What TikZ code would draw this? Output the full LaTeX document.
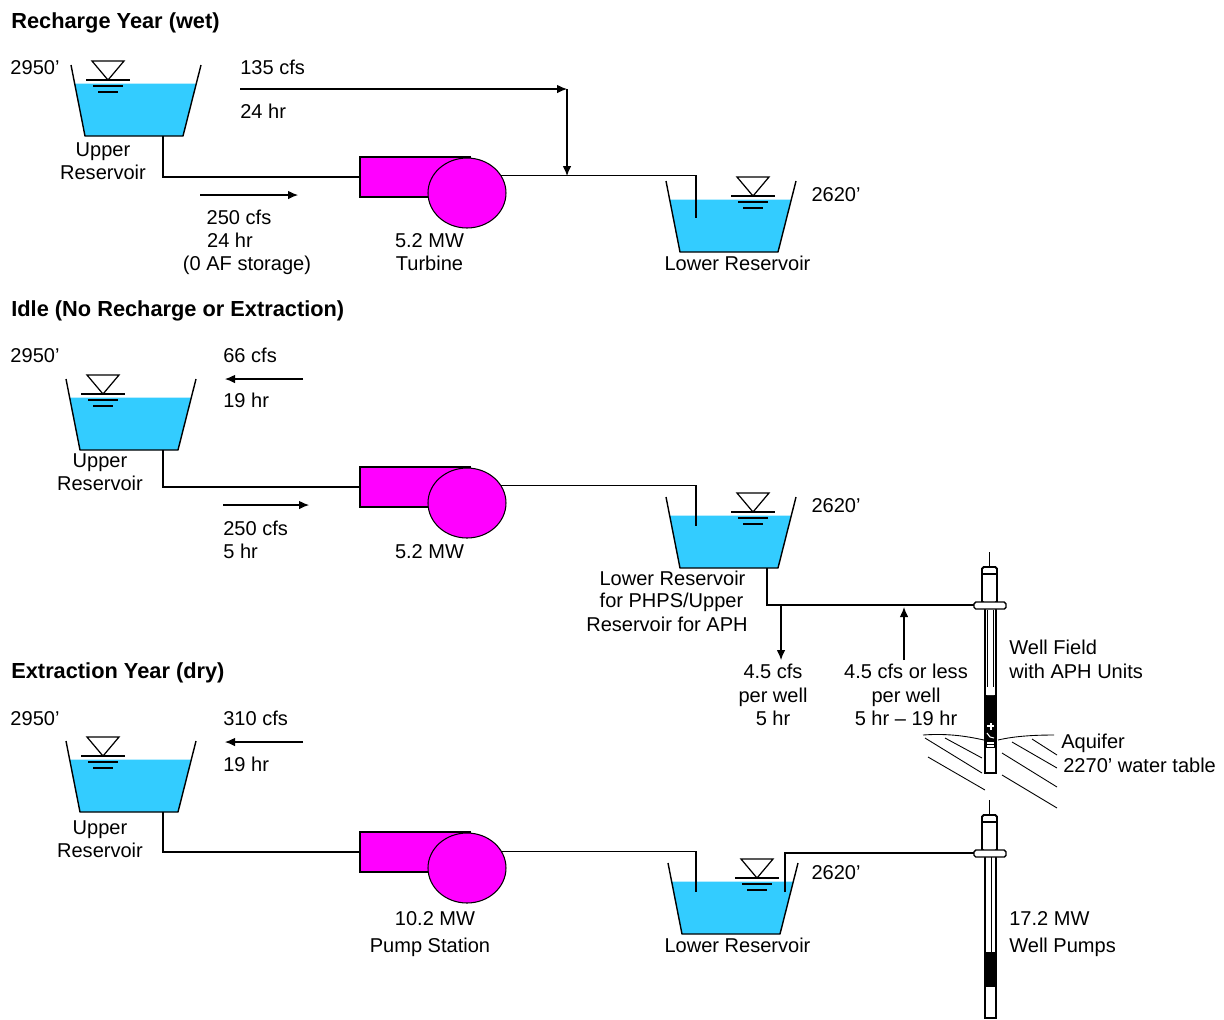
\documentclass[tikz,border=0pt]{standalone}
\usepackage{fontspec}
\setmainfont{Liberation Sans}
\usepackage{tikz}
\usetikzlibrary{shapes.geometric,arrows.meta}
\definecolor{WaterBlue}{RGB}{51,204,255}
\definecolor{PumpPink}{RGB}{255,0,255}
\tikzset{
	pipe/.style={line width=0.8pt},
	flow/.style={line width=0.6pt, -{Latex[length=2mm,width=1.7mm]}},
	txt/.style={font=\fontsize{11.4}{13.2}\selectfont, inner sep=0pt, align=center},
	lefttxt/.style={txt, anchor=west},
	title/.style={font=\fontsize{12.4}{14}\selectfont\bfseries, inner sep=0pt, anchor=west},
	pumpcase/.style={draw=black, fill=PumpPink, line width=0.6pt, rectangle, inner sep=0pt, minimum width=2.2cm, minimum height=0.8cm},
	pumpwheel/.style={draw=black, fill=PumpPink, line width=0.6pt, ellipse, inner sep=0pt, minimum width=1.56cm, minimum height=1.4cm},
	wellcap/.style={line width=1.1pt, fill=white, rounded corners=1pt},
	wellwall/.style={line width=1.6pt, fill=white},
}
\begin{document}
\begin{tikzpicture}[x=0.02cm, y=-0.02cm]
	\useasboundingbox (0,0) rectangle (1224,1019);

	% reservoirs: bottom left corner and level mark
	\foreach \x/\y/\t in {85/136/108, 680/252/753, 80/450/103, 680/568/753, 80/812/103, 682/934/757}{
		\fill[WaterBlue] (\x-10.5,\y-52.5) -- (\x+111,\y-52.5) -- (\x+98,\y) -- (\x,\y) -- cycle;
		\draw[pipe, line join=round] (\x-14,\y-71) -- (\x,\y) -- (\x+98,\y) -- (\x+116,\y-71);
		\draw[line width=0.7pt] (\t-16,\y-75) -- (\t+16,\y-75) -- (\t,\y-56) -- cycle;
		\draw[line width=0.7pt] (\t-22,\y-56) -- (\t+22,\y-56);
		\draw[line width=0.7pt] (\t-15,\y-50) -- (\t+15,\y-50);
		\draw[line width=0.7pt] (\t-10,\y-44) -- (\t+10,\y-44);
	}

	% pumps
	\foreach \n/\y in {1/193, 2/503, 3/868}{
		\node[pumpcase] (case\n) at (415,\y-16) {};
		\node[pumpwheel] (wheel\n) at (467,\y) {};
	}

	\coordinate (out1) at (163,136);
	\coordinate (out2) at (163,450);
	\coordinate (out3) at (163,812);
	\coordinate (in1) at (696,218);
	\coordinate (in2) at (696,526);
	\coordinate (in3) at (696,892);
	\coordinate (out4) at (767,568);
	\coordinate (in4) at (785,892);

	\draw[pipe] (out1) |- (case1.west);
	\draw[pipe] (out2) |- (case2.west);
	\draw[pipe] (out3) |- (case3.west);
	\draw[pipe] (wheel1.27) -| (in1);
	\draw[pipe] (wheel2.27) -| (in2);
	\draw[pipe] (wheel3.25) -| (in3);

	% wells
	\foreach \n/\y/\e/\bt/\bb in {1/552/773/695/748, 2/800/1018/952/987}{
		\draw[pipe] (989.5,\y) -- (989.5,\y+15);
		\draw[wellcap] (982,\y+15) rectangle (997,\y+51);
		\draw[line width=0.7pt] (982,\y+22) -- (997,\y+22);
		\draw[wellwall] (985,\y+56) rectangle (996,\e);
		\fill[black] (985,\bt) rectangle (996,\bb);
		\draw[wellcap, line width=0.8pt] (974,\y+50) rectangle (1006,\y+57);
		\coordinate (flange\n) at (974,\y+53);
	}
	\draw[line width=0.5pt] (987.5,610) -- (987.5,687);
	\draw[line width=0.5pt] (993.5,610) -- (993.5,687);
	\draw[line width=0.5pt] (991,857) -- (991,952);
	\fill[white] (987,695) -- (988,687) -- (993,687) -- (994,695) -- cycle;
	\draw[white, line width=0.6pt] (987,726) -- (994,726);
	\draw[white, line width=0.6pt] (991,723) -- (991,730);
	\draw[white, line width=0.6pt] (987,733) -- (990,737) -- (994,738);
	\draw[white, line width=0.6pt] (987,743) -- (994,743);
	\draw[white, line width=0.6pt] (987,746) -- (994,746);

	\draw[pipe] (out4) |- (flange1);
	\draw[pipe] (in4) |- (flange2);

	% water table
	\draw[line width=0.5pt] (923,735) .. controls (950,733) and (970,737) .. (984,740);
	\draw[line width=0.5pt] (998,740) .. controls (1015,736) and (1035,735) .. (1054,735);
	\foreach \a/\b/\c/\d in {925/738/982/773, 945/738/982/758, 928/757/985/790, 1002/753/1057/787, 1012/742/1057/768, 1032/739/1057/755, 1002/775/1057/808}{
		\draw[line width=0.5pt] (\a,\b) -- (\c,\d);
	}

	% flows
	\coordinate (a1) at (240,89);
	\coordinate (a2) at (567,89);
	\coordinate (a3) at (567,176);
	\draw[flow] (a1) -- (a2);
	\draw[flow] (a2) -- (a3);
	\coordinate (b1) at (200,195);
	\coordinate (b2) at (298,195);
	\draw[flow] (b1) -- (b2);
	\coordinate (c1) at (303,379);
	\coordinate (c2) at (225,379);
	\draw[flow] (c1) -- (c2);
	\coordinate (d1) at (223,505);
	\coordinate (d2) at (309,505);
	\draw[flow] (d1) -- (d2);
	\coordinate (e1) at (781,606);
	\coordinate (e2) at (781,660);
	\draw[flow] (e1) -- (e2);
	\coordinate (f1) at (904,660);
	\coordinate (f2) at (904,607);
	\draw[flow] (f1) -- (f2);
	\coordinate (g1) at (303,742);
	\coordinate (g2) at (225,742);
	\draw[flow] (g1) -- (g2);

	% texts
	\node[title] (T1) at (11,23) {Recharge Year (wet)};
	\node[title] (T2) at (11,311) {Idle (No Recharge or Extraction)};
	\node[title] (T3) at (11,673) {Extraction Year (dry)};

	\node[txt] (H1) at (35,68) {2950’};
	\node[txt] (H2) at (35,356) {2950’};
	\node[txt] (H3) at (35,719) {2950’};
	\node[txt] (H4) at (836,195) {2620’};
	\node[txt] (H5) at (836,506) {2620’};
	\node[txt] (H6) at (836,873) {2620’};

	\node[txt] (U1) at (103,161) {Upper\\Reservoir};
	\node[txt] (U2) at (100,472) {Upper\\Reservoir};
	\node[txt] (U3) at (100,839) {Upper\\Reservoir};
	\node[txt] (L1) at (737.5,263) {Lower Reservoir};
	\node[txt] (L2) at (672.5,578.5) {Lower Reservoir};
	\node[txt] (L4) at (671.5,602.5) {for PHPS/Upper};
	\node[txt] (L5) at (667,624) {Reservoir for APH};
	\node[txt] (L3) at (737.5,945) {Lower Reservoir};

	\node[lefttxt] (Q1) at (240,67) {135 cfs};
	\node[lefttxt] (Q2) at (240,111) {24 hr};
	\node[txt] (Q3) at (239,217) {250 cfs};
	\node[txt] (Q4) at (230,240) {24 hr};
	\node[txt] (Q5) at (247,265) {(0 AF storage)};
	\node[lefttxt] (Q6) at (223,355) {66 cfs};
	\node[lefttxt] (Q7) at (223,400) {19 hr};
	\node[lefttxt] (Q8) at (223,528) {250 cfs};
	\node[lefttxt] (Q9) at (223,551) {5 hr};
	\node[lefttxt] (Q10) at (223,718) {310 cfs};
	\node[lefttxt] (Q11) at (223,764) {19 hr};
	\node[txt] (Q12) at (773,695) {4.5 cfs\\per well\\5 hr};
	\node[txt] (Q13) at (906,695) {4.5 cfs or less\\per well\\5 hr – 19 hr};

	\node[txt] (M1) at (429.5,252) {5.2 MW\\Turbine};
	\node[txt] (M2) at (429.5,552) {5.2 MW};
	\node[txt] (M3) at (435,919) {10.2 MW};
	\node[txt] (M4) at (430,947) {Pump Station};

	\node[lefttxt] (W1) at (1009,647) {Well Field};
	\node[lefttxt] (W2) at (1009,671) {with APH Units};
	\node[lefttxt] (W3) at (1061,743.5) {Aquifer};
	\node[lefttxt] (W4) at (1063,765) {2270’ water table};
	\node[lefttxt] (W5) at (1009,918) {17.2 MW};
	\node[lefttxt] (W6) at (1009,947) {Well Pumps};
\end{tikzpicture}
\end{document}
